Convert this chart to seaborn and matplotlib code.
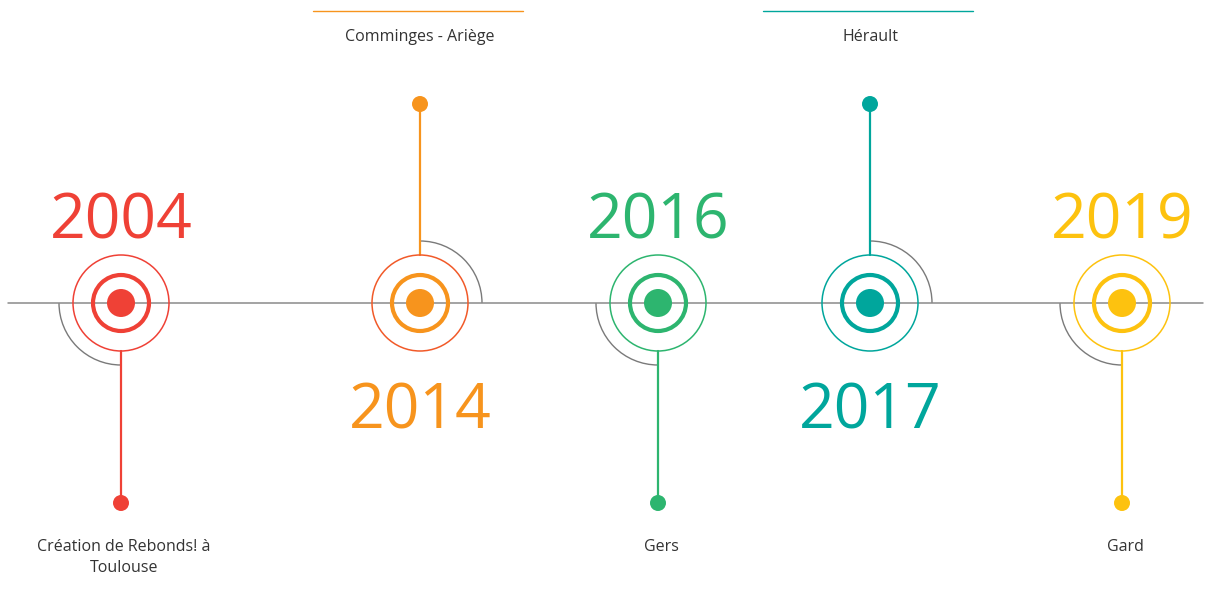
import matplotlib
matplotlib.use("Agg")
import matplotlib.pyplot as plt
import seaborn as sns
import pandas as pd
from matplotlib.patches import Circle, Arc

# Données de la frise
annees = ["2004", "2014", "2016", "2017", "2019"]
lieux = ["Création de Rebonds! à\nToulouse", "Comminges - Ariège", "Gers", "Hérault", "Gard"]
cote = ["bas", "haut", "bas", "haut", "bas"]
couleurs = ["#EF4136", "#F7941D", "#2DB56F", "#00A69C", "#FDC20F"]
couleurs_anneau = ["#EF4136", "#F15A29", "#2DB56F", "#00A69C", "#FDC20F"]

# mise en page (pixels)
pos_x = [121, 420, 658, 870, 1122]
y_axe = 303
r_ext, r_int, r_dot, r_arc = 48, 28, 14, 62

sns.set_theme(style="white")
plt.rcParams['font.family'] = ['Open Sans', 'DejaVu Sans']

fig = plt.figure(figsize=(12.15, 5.94), dpi=100)
ax = fig.add_axes([0, 0, 1, 1])
ax.set_xlim(0, 1215)
ax.set_ylim(594, 0)
ax.set_aspect("equal")
ax.axis("off")

# axe horizontal
axe = pd.DataFrame({"x": [8, 1203], "y": [y_axe, y_axe]})
sns.lineplot(data=axe, x="x", y="y", color="#8a8a8a", linewidth=1.1, ax=ax)

df = pd.DataFrame({"annee": annees, "lieu": lieux, "cote": cote,
                   "couleur": couleurs, "anneau": couleurs_anneau, "x": pos_x})
df["y_fin"] = df["cote"].map({"bas": 503, "haut": 104})

for _, r in df.iterrows():
    x = r["x"]
    bas = r["cote"] == "bas"
    # tige
    y0 = y_axe + r_ext if bas else y_axe - r_ext
    ax.plot([x, x], [y0, r["y_fin"]], color=r["couleur"], lw=1.6, zorder=2)
    # arc gris
    if bas:
        ax.add_patch(Arc((x, y_axe), 2 * r_arc, 2 * r_arc, theta1=90, theta2=180,
                         color="#7a7a7a", lw=1.0, zorder=1))
    else:
        ax.add_patch(Arc((x, y_axe), 2 * r_arc, 2 * r_arc, theta1=270, theta2=360,
                         color="#7a7a7a", lw=1.0, zorder=1))
    # cercles
    ax.add_patch(Circle((x, y_axe), r_ext, fill=False, ec=r["anneau"], lw=1.1, zorder=3))
    ax.add_patch(Circle((x, y_axe), r_int, fill=False, ec=r["couleur"], lw=3.0, zorder=3))
    # année
    y_an = 222 if bas else 412
    ax.text(x, y_an, r["annee"], color=r["couleur"], fontsize=45,
            ha="center", va="center", zorder=4)
    # libellé
    if bas:
        ax.text(x + 3, 539, r["lieu"], color="#333333", fontsize=11.5,
                ha="center", va="top", linespacing=1.45)
    else:
        ax.text(x, 37, r["lieu"], color="#333333", fontsize=11.5,
                ha="center", va="center")
        ax.plot([x - 107, x + 103], [11, 11], color=r["couleur"], lw=1.0)

# points centraux et extrémités
pts = pd.concat([
    pd.DataFrame({"x": df["x"], "y": y_axe, "c": df["couleur"], "s": 2 * r_dot}),
    pd.DataFrame({"x": df["x"], "y": df["y_fin"], "c": df["couleur"], "s": 16}),
])
for taille, grp in pts.groupby("s"):
    diam_pt = taille * 72 / 100
    sns.scatterplot(data=grp, x="x", y="y", hue="c", palette=dict(zip(grp["c"], grp["c"])),
                    s=diam_pt ** 2, linewidth=0, legend=False, zorder=5, ax=ax)

fig.savefig("out.png", dpi=100, facecolor="white")
